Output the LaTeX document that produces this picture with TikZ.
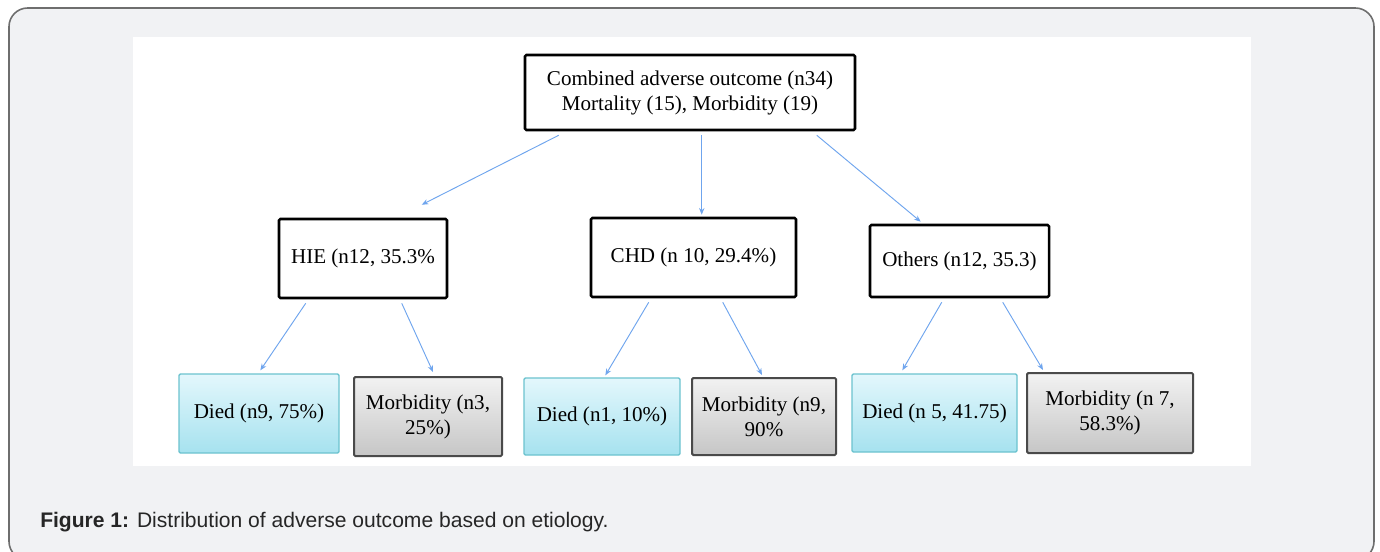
\documentclass[tikz,border=0pt]{standalone}
\usepackage{fontspec}
\setmainfont{Liberation Serif}
\newfontfamily\capfont{Liberation Sans}
\usetikzlibrary{arrows.meta,calc}
\definecolor{pagebg}{HTML}{F1F2F4}
\definecolor{framegray}{HTML}{6E6E6E}
\definecolor{linkblue}{HTML}{6FA5EE}
\definecolor{cyanedge}{HTML}{6CC3CF}
\definecolor{cyantop}{HTML}{E3F7FC}
\definecolor{cyanbot}{HTML}{A6E2EF}
\definecolor{grayedge}{HTML}{4A4A4A}
\definecolor{graytop}{HTML}{F2F2F2}
\definecolor{graybot}{HTML}{C6C6C6}
\tikzset{
  box/.style={draw=black, line width=1.9pt, fill=white, rounded corners=1pt,
    align=center, inner sep=2pt, font=\fontsize{15.8}{18.75}\selectfont},
  died/.style={box, draw=cyanedge, line width=1pt, top color=cyantop, bottom color=cyanbot},
  morb/.style={box, draw=grayedge, line width=1.5pt, top color=graytop, bottom color=graybot},
  link/.style={draw=linkblue, line width=0.7pt, -{Stealth[length=5pt,width=4pt]}}
}
\begin{document}
\begin{tikzpicture}[x=0.75pt, y=-0.75pt]
  \useasboundingbox (0,0) rectangle (1380,552);
  \draw[framegray, line width=1.2pt, fill=pagebg, rounded corners=14pt] (9,8) rectangle (1374,560);
  \fill[white] (133,37) rectangle (1251,466);
  \node[box, minimum width=330*0.75pt, minimum height=75*0.75pt] (top) at (690,92.5)
    {Combined adverse outcome (n34)\\Mortality (15), Morbidity (19)};
  \node[box, minimum width=168*0.75pt, minimum height=79*0.75pt] (hie) at (363,258.5) {HIE (n12, 35.3\%};
  \node[box, minimum width=205*0.75pt, minimum height=79*0.75pt] (chd) at (693.5,257.5) {CHD (n 10, 29.4\%)};
  \node[box, minimum width=179*0.75pt, minimum height=72*0.75pt] (oth) at (959.5,261) {Others (n12, 35.3)};
  \node[died, minimum width=160*0.75pt, minimum height=79*0.75pt] (died1) at (259,413.5) {Died (n9, 75\%)};
  \node[morb, minimum width=148*0.75pt, minimum height=79*0.75pt] (morb1) at (428,416.5) {Morbidity (n3,\\25\%)};
  \node[died, minimum width=156*0.75pt, minimum height=77*0.75pt] (died2) at (602,416.5) {Died (n1, 10\%)};
  \node[morb, minimum width=144*0.75pt, minimum height=77*0.75pt] (morb2) at (764,416.5) {Morbidity (n9,\\90\%};
  \node[died, minimum width=165*0.75pt, minimum height=78*0.75pt] (died3) at (934.5,413) {Died (n 5, 41.75)};
  \node[morb, minimum width=166*0.75pt, minimum height=80*0.75pt] (morb3) at (1110,413) {Morbidity (n 7,\\58.3\%)};
  \node[anchor=base west, inner sep=0pt, font=\capfont\fontsize{15.8}{18}\selectfont, text=black!85] (cap) at (40,527)
    {\textbf{Figure 1:} Distribution of adverse outcome based on etiology.};
  \begin{scope}[link]
    \draw ($(top.south west)+(35,4)$) -- ($(hie.north west)+(144,-13)$);
    \draw ($(top.south west)+(178,4)$) -- ($(chd.north west)+(112,-2)$);
    \draw ($(top.south west)+(293,4)$) -- ($(oth.north west)+(52,-2)$);
    \draw ($(hie.south west)+(28,4)$) -- ($(died1.north west)+(82,-3)$);
    \draw ($(hie.south west)+(124,4)$) -- ($(morb1.north west)+(80,-4)$);
    \draw ($(chd.south west)+(59,4)$) -- ($(died2.north west)+(82,-2)$);
    \draw ($(chd.south west)+(133,4)$) -- ($(morb2.north west)+(71,-2)$);
    \draw ($(oth.south west)+(73,4)$) -- ($(died3.north west)+(51,-3)$);
    \draw ($(oth.south west)+(134,4)$) -- ($(morb3.north west)+(17,-2)$);
  \end{scope}
\end{tikzpicture}
\end{document}
